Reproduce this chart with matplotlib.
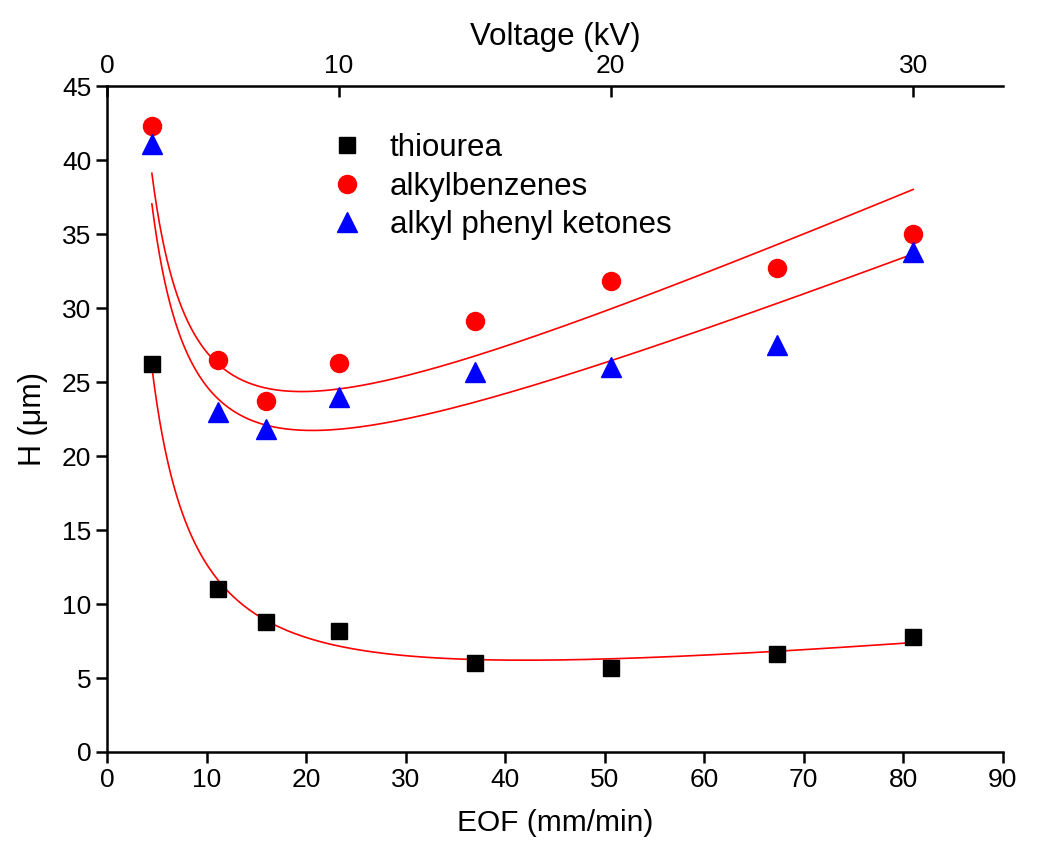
import numpy as np
import matplotlib
matplotlib.use("Agg")
import matplotlib.pyplot as plt

plt.rcParams['font.family'] = ['Liberation Sans', 'DejaVu Sans']

# data
eof = [4.5, 11.1, 16.0, 23.3, 37.0, 50.6, 67.3, 81.0]
voltage = [2, 5, 7, 10, 15, 20, 25, 30]
h_thiourea = [26.2, 11.0, 8.8, 8.2, 6.0, 5.7, 6.6, 7.8]
h_alkylbenz = [42.3, 26.5, 23.7, 26.3, 29.1, 31.8, 32.7, 35.0]
h_apk = [41.1, 23.0, 21.8, 24.0, 25.7, 26.0, 27.5, 33.8]

# van Deemter fit H = A + B/u + C*u (coefficients)
fit_thiourea = (0.88, 111.8, 0.0634)
fit_alkylbenz = (12.9, 112.0, 0.293)
fit_apk = (10.8, 112.7, 0.265)

voltage_ticks = [0, 10, 20, 30]

fig = plt.figure(figsize=(10.5, 8.61), dpi=100)
ax = fig.add_axes([0.102, 0.1266, 0.853, 0.7734])

u = np.linspace(min(eof), max(eof), 300)
for A, B, C in (fit_thiourea, fit_alkylbenz, fit_apk):
    ax.plot(u, A + B / u + C * u, color="red", lw=1.2, zorder=2)

ax.plot(eof, h_thiourea, "s", color="black", ms=11, label="thiourea", zorder=3)
ax.plot(eof, h_alkylbenz, "o", color="red", ms=13, label="alkylbenzenes", zorder=3)
ax.plot(eof, h_apk, "^", color="blue", ms=14, label="alkyl phenyl ketones", zorder=3)

ax.set_xlim(0, 90)
ax.set_ylim(0, 45)
ax.set_xticks(np.arange(0, 91, 10))
ax.set_yticks(np.arange(0, 46, 5))
ax.set_xlabel("EOF (mm/min)", fontsize=21.5, labelpad=12)
ax.set_ylabel("H (\u03bcm)", fontsize=22, labelpad=10)
ax.tick_params(axis="both", labelsize=19, width=1.8, length=8, direction="out")
ax.spines["right"].set_visible(False)
ax.spines["top"].set_visible(False)
for s in ("left", "bottom"):
    ax.spines[s].set_linewidth(1.8)

# top voltage axis, ticks placed at the EOF of each voltage
v_map = dict(zip([0] + voltage, [0.0] + eof))
ax2 = ax.twiny()
ax2.set_xlim(ax.get_xlim())
ax2.set_xticks([v_map[v] for v in voltage_ticks])
ax2.set_xticklabels([str(v) for v in voltage_ticks])
ax2.tick_params(axis="x", labelsize=19, width=1.8, length=8, direction="in", pad=6)
ax2.set_xlabel("Voltage (kV)", fontsize=22.5, labelpad=6)
for s in ("left", "right", "bottom"):
    ax2.spines[s].set_visible(False)
ax2.spines["top"].set_linewidth(1.8)

ax.legend(loc="upper left", bbox_to_anchor=(0.233, 0.929), frameon=False,
          fontsize=22.5, handlelength=2.0, handletextpad=0.37,
          labelspacing=0.26, borderaxespad=0, borderpad=0)

fig.savefig("out.png", dpi=100)
